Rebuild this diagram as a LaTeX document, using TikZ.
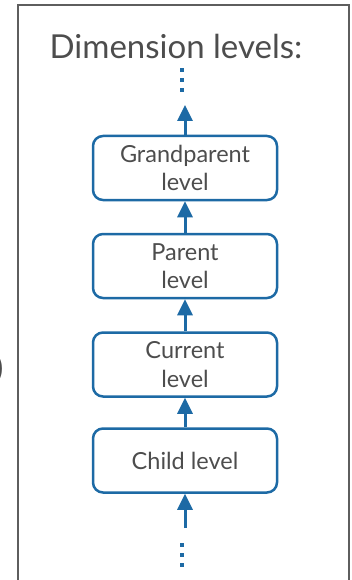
\documentclass[tikz,border=0pt]{standalone}
\usepackage{fontspec}
\setmainfont{Lato}
\usetikzlibrary{arrows.meta}
\definecolor{levelblue}{HTML}{1D6AA5}
\definecolor{labelgray}{HTML}{4D4D4D}
\definecolor{framegray}{HTML}{5E5E5E}
\tikzset{
  levelbox/.style={draw=levelblue, line width=2.5pt, rounded corners=10pt,
    minimum width=184pt, minimum height=64pt, inner sep=0pt,
    text=labelgray, align=center, font=\fontsize{23.5}{28.5}\selectfont},
  uparrow/.style={draw=levelblue, line width=3pt,
    -{Triangle[width=15pt,length=16pt]}},
  dot/.style={fill=levelblue},
}
\begin{document}
\begin{tikzpicture}[x=1pt,y=-1pt]
  \useasboundingbox (0,0) rectangle (351,580);
  \clip (0,0) rectangle (351,580);
  % outer frame, open at the bottom
  \draw[framegray, line width=2pt] (18,600) -- (18,5) -- (348.5,5) -- (348.5,600);
  % closing bracket at the left edge
  \node[anchor=east, text=labelgray, font=\fontsize{30}{30}\selectfont, inner sep=0pt] (paren) at (3.5,369) {)};
  % title
  \node[text=labelgray, font=\fontsize{33}{33}\selectfont] (title) at (176,46) {Dimension levels:};
  % level boxes
  \node[levelbox] (gp) at (185,168) {Grandparent\\level};
  \node[levelbox] (parent) at (185,266) {Parent\\level};
  \node[levelbox] (current) at (185,364.5) {Current\\level};
  \node[levelbox] (child) at (185,460.5) {Child level};
  % free ends of the outer arrows
  \coordinate (toptip) at (185,105);
  \coordinate (bottomtail) at (185,528);
  % arrows
  \draw[uparrow] (gp.north) -- (toptip);
  \draw[uparrow] (parent.north) -- (gp.south);
  \draw[uparrow] (current.north) -- (parent.south);
  \draw[uparrow] (child.north) -- (current.south);
  \draw[uparrow] (bottomtail) -- (child.south);
  % ellipsis dots above and below
  \foreach \y in {70,80,90,545,555,565}
    \fill[dot] (180.2,\y-1.8) rectangle (183.8,\y+1.8);
\end{tikzpicture}
\end{document}
